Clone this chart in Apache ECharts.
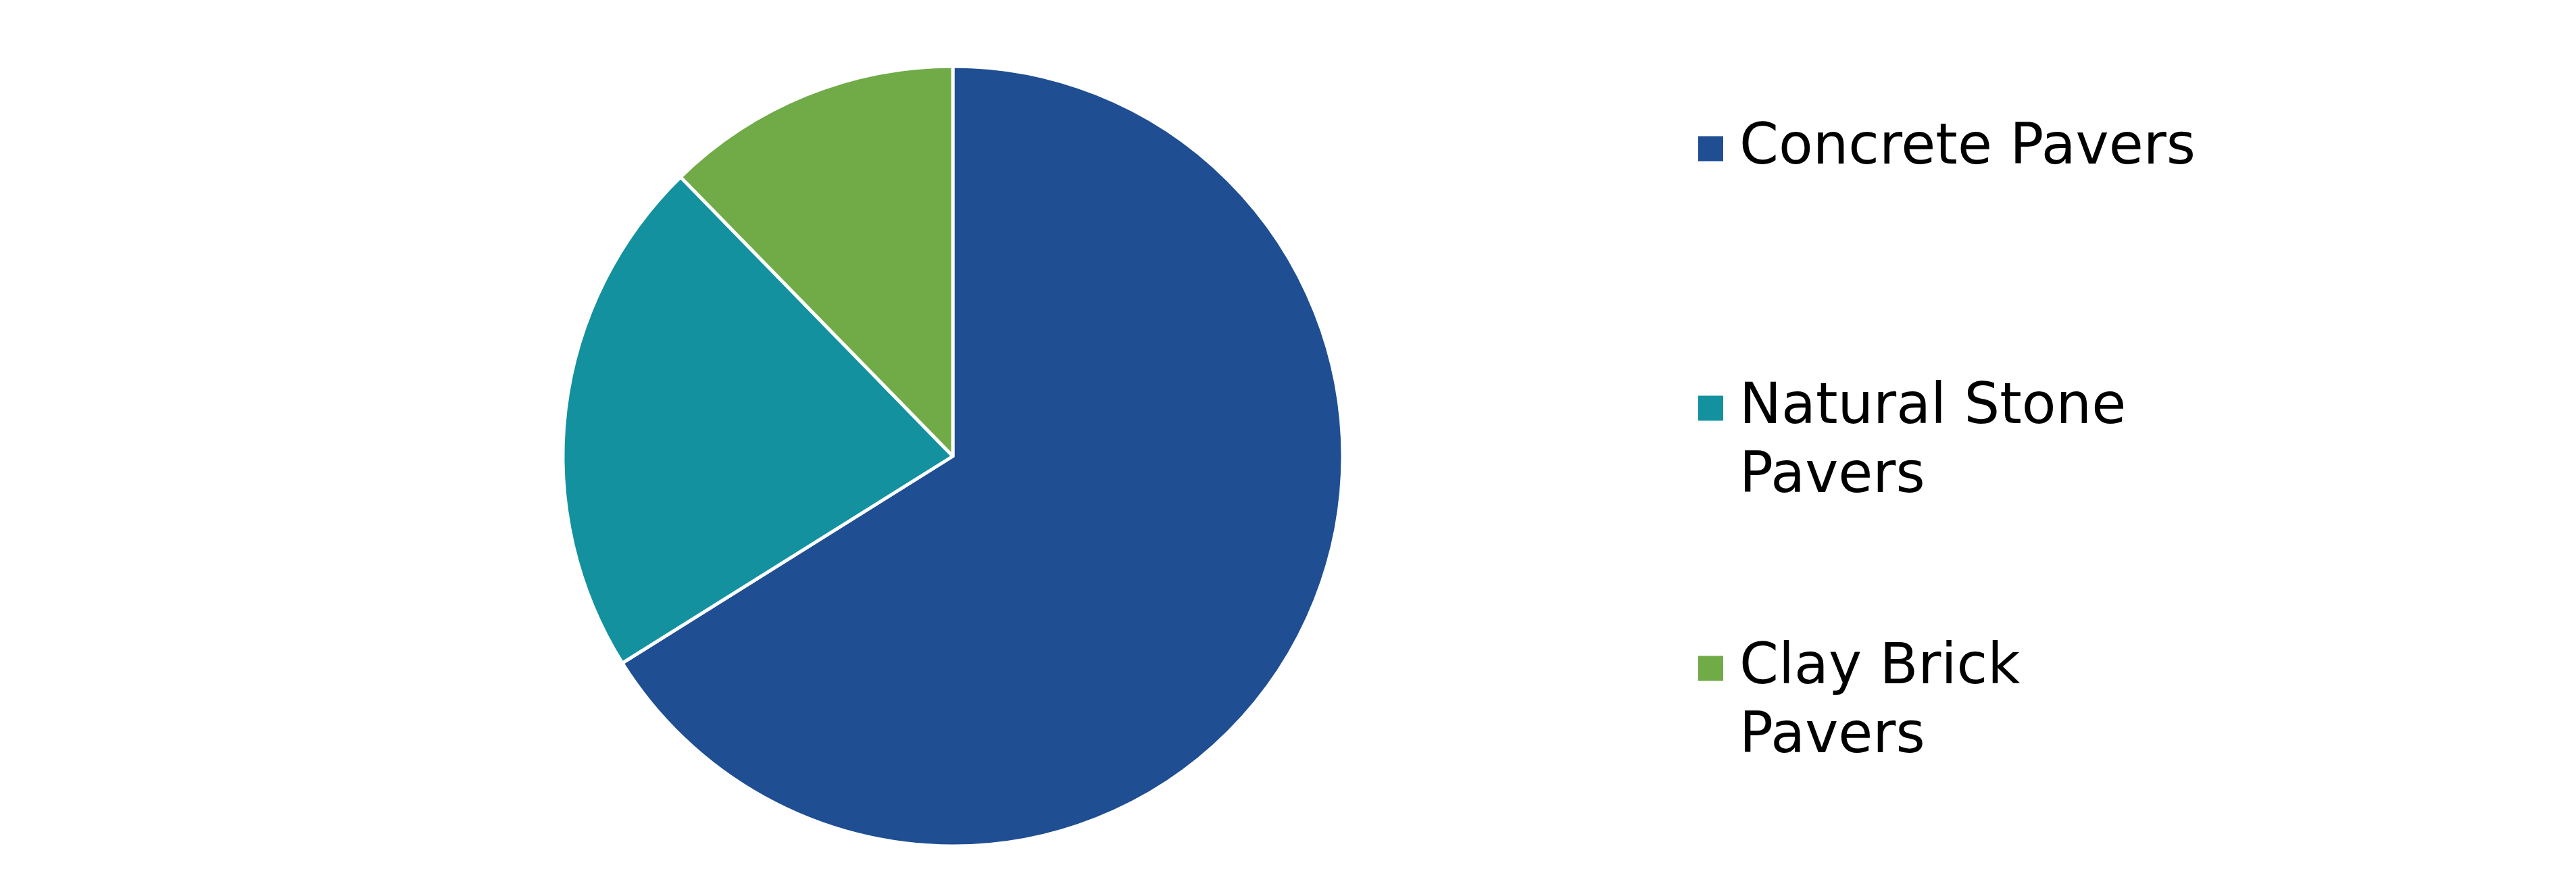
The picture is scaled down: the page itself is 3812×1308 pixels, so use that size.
<!DOCTYPE html>
<html>
<head>
<meta charset="utf-8">
<script src="https://cdn.jsdelivr.net/npm/echarts@6/dist/echarts.min.js"></script>
<style>
html,body{margin:0;padding:0;background:#fff;}
#c{width:3812px;height:1308px;}
</style>
</head>
<body>
<div id="c"></div>
<script>
const categories = ['Concrete Pavers', 'Natural Stone Pavers', 'Clay Brick Pavers'];
const values = [66.1, 21.6, 12.3];
const colors = ['#1F4E92', '#13919E', '#71AB48'];
const legendLines = {
  'Concrete Pavers': ['Concrete Pavers'],
  'Natural Stone Pavers': ['Natural Stone', 'Pavers'],
  'Clay Brick Pavers': ['Clay Brick', 'Pavers']
};

const LH = 102;
const legendTops = [169, 451, 836];

const chart = echarts.init(document.getElementById('c'), null, {renderer: 'canvas'});

const legends = categories.map((name, i) => {
  const lines = legendLines[name];
  // a leading blank line keeps the first text line level with the icon
  const text = lines.length > 1 ? ' \n' + lines.join('\n') : lines[0];
  return {
    data: [name],
    orient: 'vertical',
    left: 2511,
    top: legendTops[i],
    padding: 0,
    itemWidth: 39,
    itemHeight: 39,
    icon: 'rect',
    selectedMode: false,
    formatter: () => text,
    textStyle: {
      fontFamily: 'DejaVu Sans',
      fontSize: 83,
      lineHeight: LH,
      color: '#000',
      padding: [0, 0, 0, 18]
    }
  };
});

chart.setOption({
  animation: false,
  backgroundColor: '#fff',
  color: colors,
  legend: legends,
  series: [{
    type: 'pie',
    center: [1410, 675],
    radius: 577,
    startAngle: 90,
    clockwise: true,
    label: {show: false},
    labelLine: {show: false},
    emphasis: {disabled: true},
    itemStyle: {borderColor: '#fff', borderWidth: 5},
    data: categories.map((n, i) => ({name: n, value: values[i]}))
  }]
});
</script>
</body>
</html>
